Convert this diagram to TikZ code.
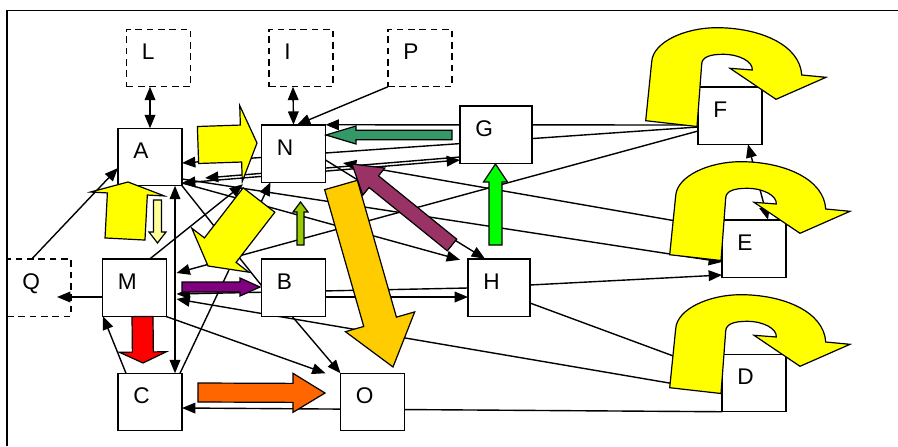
\documentclass[tikz,border=0pt]{standalone}
\usepackage{fontspec}
\setmainfont{Liberation Sans}
\usetikzlibrary{arrows.meta,calc,backgrounds}

\definecolor{cYel}{HTML}{FFFF00}
\definecolor{cPale}{HTML}{FFFF99}
\definecolor{cOlive}{HTML}{99CC00}
\definecolor{cSea}{HTML}{339966}
\definecolor{cMaroon}{HTML}{993366}
\definecolor{cLime}{HTML}{00FF00}
\definecolor{cGold}{HTML}{FFCC00}
\definecolor{cPurple}{HTML}{800080}
\definecolor{cRed}{HTML}{FF0000}
\definecolor{cOrange}{HTML}{FF6600}

% block arrow: fill, tail centre (x,y), tip (x,y), half shaft, half head, head length
\newcommand\fatarrow[8]{%
  \pgfmathsetmacro\fadx{#4-#2}%
  \pgfmathsetmacro\fady{#5-#3}%
  \pgfmathsetmacro\falen{veclen(\fadx,\fady)}%
  \pgfmathsetmacro\faang{atan2(-\fady,\fadx)}%
  \pgfmathsetmacro\faneck{\falen-#8}%
  \draw[blockarrow,fill=#1,shift={(#2,#3)},rotate=\faang]
    (0,#6) -- (\faneck,#6) -- (\faneck,#7) -- (\falen,0)
    -- (\faneck,-#7) -- (\faneck,-#6) -- (0,-#6) -- cycle;}

% curved U-turn arrow, shifted by (dx,dy)
\newcommand\uturn[2]{%
  \draw[blockarrow,fill=cYel,shift={(#1,#2)}]
    (645.7,120.7) -- (651.7,61.7)
    .. controls (653,42) and (685,27.7) .. (716.7,27.7)
    .. controls (760,27.7) and (800,45) .. (801.7,75)
    -- (826,77.3) -- (776,99.3) -- (730,68.3) -- (752.3,70)
    .. controls (753,62) and (740,54.3) .. (723,54.3)
    .. controls (710,54.3) and (702,57) .. (701.7,64)
    -- (697,126.5) -- cycle;}

\begin{document}
\begin{tikzpicture}[x=0.75pt,y=-0.75pt,
  >={Triangle[length=10pt,width=8pt]},
  every node/.style={font=\fontsize{17pt}{20pt}\selectfont},
  box/.style={draw,fill=white,line width=1.1pt,inner xsep=11.5pt,inner ysep=0pt,
    outer sep=0pt,text width=25pt,align=left,text height=23pt,text depth=20.1pt},
  wide/.style={text width=31pt},
  narrow/.style={text width=23.5pt},
  ghost/.style={box,fill=none,dash pattern=on 5pt off 3.5pt},
  blockarrow/.style={draw=black,line width=0.9pt,line join=miter},
  conn/.style={line width=1.05pt}]

\useasboundingbox (0,0) rectangle (898,446);

% boxes
\node[ghost] (L) at (158.5,58) {L};
\node[ghost] (I) at (301,58) {I};
\node[ghost] (P) at (420,58) {P};
\node[ghost] (Q) at (39,287.5) {Q};
\node[box] (A) at (150,157) {A};
\node[box] (N) at (293.5,153.5) {N};
\node[box,wide] (G) at (496,134.5) {G};
\node[box] (F) at (730,115.5) {F};
\node[box] (E) at (754,248.5) {E};
\node[box] (D) at (754,383) {D};
\node[box,narrow] (H) at (499,287.5) {H};
\node[box] (B) at (293.5,287.5) {B};
\node[box] (M) at (134.5,287.5) {M};
\node[box] (C) at (150,402) {C};
\node[box] (O) at (372.5,402) {O};

\begin{pgfonlayer}{background}
  % frame
  \draw[line width=1.2pt] (7,446) -- (7,10.5) -- (898,10.5);
  % connectors
  \begin{scope}[conn]
    \draw[<->] ($(L.south)+(-8.5,0)$) -- (A.north);
    \draw[<->] ($(I.south)+(-8,0)$) -- (N.north);
    \draw[->] (P.south west) -- ($(N.north)+(3.5,0)$);
    \draw[->] ($(F.west)+(0,9.5)$) -- (N.north east);
    \draw[->] ($(F.west)+(0,11.5)$) -- ($(A.east)+(0,6)$);
    \draw[->] ($(F.west)+(0,15.5)$) -- ($(M.east)+(10,-14.5)$);
    \draw[<->] ($(F.south)+(18,0)$) -- ($(E.north)+(14,0)$);
    \draw[->] ($(E.west)+(0,-19.5)$) -- ($(N.east)+(17.5,9.5)$);
    \draw[->] ($(A.east)+(0,22)$) -- ($(E.west)+(0,13.5)$);
    \draw[->] ($(H.east)+(0,-2.5)$) -- ($(E.west)+(0,26.5)$);
    \draw ($(H.east)+(0,15.5)$) -- ($(D.west)+(0,-9)$);
    \draw[->] ($(D.west)+(0,9)$) -- ($(M.east)+(10,11.5)$);
    \draw[->] (D.south west) -- ($(C.east)+(0,6)$);
    \draw[<->] ($(A.east)+(0,26)$) -- ($(G.west)+(0,25.5)$);
    \draw[->] ($(G.west)+(0,22.5)$) -- ($(A.east)+(23,21)$);
    \draw[->] ($(N.east)+(0,6.5)$) -- ($(H.north)+(-14,0)$);
    \draw[->] ($(A.east)+(0,26)$) -- ($(H.north west)+(-8,1)$);
    \draw[->] ($(H.west)+(0,0.5)$) -- ($(M.east)+(10,6.5)$);
    \draw[->] ($(B.east)+(0,9.5)$) -- ($(H.west)+(0,9.5)$);
    \draw[->] ($(M.west)+(0,9.5)$) -- ($(Q.east)+(-14,9.5)$);
    \draw[->] ($(C.north west)+(8,0)$) -- ($(M.south west)+(0.5,0)$);
    \draw[<->] ($(A.south)+(25,0)$) -- ($(C.north)+(25,0)$);
    \draw[->] ($(M.south east)+(-9.5,-3)$) -- ($(O.north west)+(-15,0)$);
    \draw[->] ($(B.south)+(-1.5,0)$) -- (O.north west);
    \draw[->] ($(C.north east)+(-2,0)$) -- ($(N.south west)+(9,0)$);
    \draw[->] ($(M.north)+(15.5,0)$) -- ($(N.south west)+(-18.5,2)$);
    \draw[->] ($(Q.north)+(-7,0)$) -- ($(A.west)+(0,11)$);
    \draw (A.south east) -- ($(B.west)+(0,-2)$);
  \end{scope}
\end{pgfonlayer}

% block arrows
\fatarrow{cYel}{125}{239}{128}{182}{20}{37}{12}
\fatarrow{cPale}{157.5}{200}{157.5}{243}{4}{8.5}{11}
\fatarrow{cYel}{198}{145}{257}{143}{18.5}{38}{16}
\fatarrow{cYel}{259}{200}{208}{266}{20}{36}{20}
\fatarrow{cOlive}{300.5}{245}{300.5}{202}{3.5}{7.5}{10}
\fatarrow{cSea}{452}{135}{326}{135}{4.7}{9}{30}
\fatarrow{cMaroon}{452}{245}{352}{164}{7.5}{17.5}{28}
\fatarrow{cLime}{495.5}{245}{495.5}{164}{6.5}{12}{18}
\fatarrow{cGold}{341}{185}{393}{367}{17}{36}{47}
\fatarrow{cPurple}{182}{287}{260}{287}{5}{9}{20}
\fatarrow{cRed}{142.5}{316.5}{143}{363}{10.5}{23.5}{11}
\fatarrow{cOrange}{198}{392.5}{325}{393}{9.5}{19.5}{32}

% U-turn arrows at F, E and D
\uturn{0}{0}
\uturn{24}{134}
\uturn{24}{267}

\end{tikzpicture}
\end{document}
